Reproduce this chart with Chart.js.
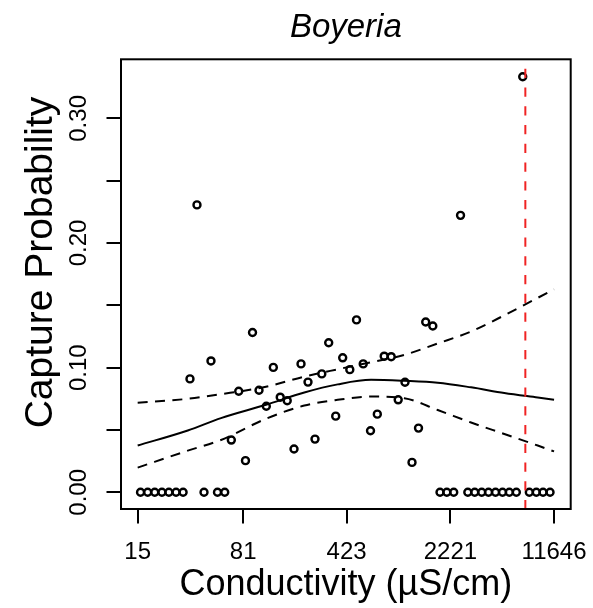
<!DOCTYPE html>
<html>
<head>
<meta charset="utf-8">
<script src="https://cdn.jsdelivr.net/npm/chart.js@4.4.1/dist/chart.umd.min.js"></script>
<style>
  html, body { margin: 0; padding: 0; background: #fff; }
  canvas { display: block; }
</style>
</head>
<body>
<canvas id="chart" width="593" height="608"></canvas>
<script>
// observed sites: conductivity (uS/cm) and capture probability
const conductivity = [15.7, 17.6, 19.7, 22.1, 24.7, 27.7, 31.0, 34.6, 38.7, 43.3,
  48.4, 53.7, 60.3, 67.0, 75.4, 84.0, 94.0, 104.3, 117.2, 131.1,
  146.4, 163.7, 182.5, 204.1, 228.2, 255.2, 284.5, 317.7, 355.3, 397.3,
  445.1, 495.4, 551.4, 619.7, 690.8, 771.3, 862.6, 964.7, 1075.5, 1202.8,
  1334.5, 1497.3, 1677.3, 1882, 2098, 2343, 2612, 2935, 3277, 3665,
  4086, 4570, 5111, 5698, 6373, 7059, 7844, 8773, 9765, 10921];
const captureProb = [0, 0, 0, 0, 0, 0, 0, 0.091, 0.2306, 0,
  0.1054, 0, 0, 0.0419, 0.0811, 0.0254, 0.1282, 0.0819, 0.069, 0.1002,
  0.0763, 0.0735, 0.0347, 0.103, 0.0884, 0.0427, 0.095, 0.12, 0.0611, 0.1079,
  0.0984, 0.1383, 0.103, 0.0494, 0.0627, 0.1092, 0.1088, 0.0742, 0.0883, 0.024,
  0.0515, 0.1366, 0.1334, 0, 0, 0, 0.2222, 0, 0, 0,
  0, 0, 0, 0, 0, 0.3334, 0, 0, 0, 0];

// fitted curve and confidence band
const fitX = [15, 33.4, 56.8, 116.6, 215.1, 366.8, 624.8, 1063.5, 1814, 3090, 5261, 8973, 11646];
const fitMean = [0.0375, 0.0496, 0.0595, 0.0702, 0.0801, 0.0866, 0.0902, 0.0894, 0.0879, 0.0842, 0.0797, 0.0760, 0.0742];
const fitUpper = [0.0718, 0.0750, 0.0787, 0.0847, 0.0928, 0.0987, 0.1043, 0.1102, 0.1194, 0.1290, 0.1420, 0.1560, 0.1628];
const fitLower = [0.0198, 0.0334, 0.0420, 0.0590, 0.0696, 0.0742, 0.0768, 0.0755, 0.0660, 0.0560, 0.0468, 0.0375, 0.0328];

const thresholdX = 7360;

const xTicks = [15, 81, 423, 2221, 11646];
const xTickLabels = ['15', '81', '423', '2221', '11646'];
const yTicks = [0, 0.05, 0.10, 0.15, 0.20, 0.25, 0.30];
const yTickLabels = ['0.00', '', '0.10', '', '0.20', '', '0.30'];

const xMin = 11.49, xMax = 15195;
const yMin = -0.0134, yMax = 0.3474;

const toXY = (xs, ys) => xs.map((x, i) => ({ x: x, y: ys[i] }));

const boxPlugin = {
  id: 'box',
  afterDraw(chart) {
    const a = chart.chartArea, ctx = chart.ctx;
    ctx.save();
    ctx.strokeStyle = '#000';
    ctx.lineWidth = 2;
    ctx.strokeRect(a.left, a.top, a.right - a.left, a.bottom - a.top);
    ctx.restore();
  }
};

const lineDs = (data, dash) => ({
  type: 'line',
  data: data,
  borderColor: '#000',
  borderWidth: 2,
  borderDash: dash,
  pointRadius: 0,
  fill: false,
  cubicInterpolationMode: 'monotone'
});

new Chart(document.getElementById('chart'), {
  type: 'scatter',
  data: {
    datasets: [
      {
        type: 'line',
        data: [{ x: thresholdX, y: yMax }, { x: thresholdX, y: yMin }],
        borderColor: 'rgb(240,35,35)',
        borderWidth: 2,
        borderDash: [9.4, 9.35],
        borderDashOffset: 9.4,
        pointRadius: 0,
        fill: false
      },
      lineDs(toXY(fitX, fitMean), []),
      lineDs(toXY(fitX, fitUpper), [10, 7.4]),
      lineDs(toXY(fitX, fitLower), [10, 7.4]),
      {
        data: toXY(conductivity, captureProb),
        pointStyle: 'circle',
        pointRadius: 3.5,
        pointBorderWidth: 2.4,
        pointBorderColor: '#000',
        pointBackgroundColor: 'rgba(0,0,0,0)',
        showLine: false
      }
    ]
  },
  options: {
    responsive: false,
    animation: false,
    devicePixelRatio: 1,
    layout: { padding: { top: 0, right: 22.3, bottom: 0, left: 0 } },
    plugins: {
      legend: { display: false },
      tooltip: { enabled: false },
      title: {
        display: true,
        text: 'Boyeria',
        fullSize: false,
        color: '#000',
        font: { family: 'Liberation Sans', size: 33, style: 'italic', weight: 'normal' },
        padding: { top: 8.5, bottom: 11.2 }
      }
    },
    scales: {
      x: {
        type: 'logarithmic',
        min: xMin,
        max: xMax,
        afterBuildTicks: s => { s.ticks = xTicks.map(v => ({ value: v })); },
        afterFit: s => { s.height = 99; s.paddingLeft = 0; s.paddingRight = 0; },
        border: { display: false },
        grid: { drawOnChartArea: false, drawTicks: true, tickLength: 14.5, tickColor: '#000', lineWidth: 2 },
        ticks: {
          autoSkip: false,
          maxRotation: 0,
          minRotation: 0,
          padding: 14.6,
          color: '#000',
          font: { family: 'Liberation Sans', size: 24 },
          callback: (v, i) => xTickLabels[i]
        },
        title: {
          display: true,
          text: 'Conductivity (µS/cm)',
          color: '#000',
          font: { family: 'Liberation Sans', size: 36 },
          padding: { top: 0, bottom: 1.8 }
        }
      },
      y: {
        type: 'linear',
        min: yMin,
        max: yMax,
        afterBuildTicks: s => { s.ticks = yTicks.map(v => ({ value: v })); },
        afterFit: s => { s.width = 121; s.paddingTop = 0; s.paddingBottom = 0; },
        border: { display: false },
        grid: { drawOnChartArea: false, drawTicks: true, tickLength: 14.5, tickColor: '#000', lineWidth: 2 },
        ticks: {
          autoSkip: false,
          minRotation: 90,
          maxRotation: 90,
          crossAlign: 'center',
          padding: 3.6,
          color: '#000',
          font: { family: 'Liberation Sans', size: 24 },
          callback: (v, i) => yTickLabels[i]
        },
        title: {
          display: true,
          // leading spaces nudge the label up, as in the original
          text: '    Capture Probability',
          color: '#000',
          font: { family: 'Liberation Sans', size: 39 },
          padding: { top: 18, bottom: 0 }
        }
      }
    }
  },
  plugins: [boxPlugin]
});
</script>
</body>
</html>
